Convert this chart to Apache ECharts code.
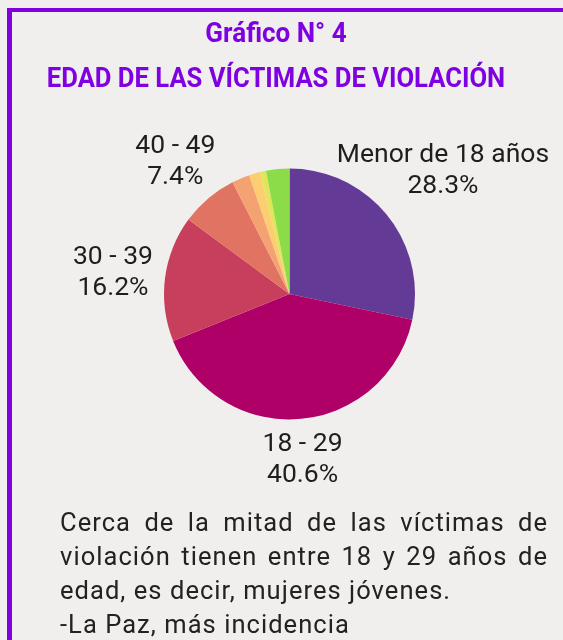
<!DOCTYPE html>
<html lang="es">
<head>
<meta charset="utf-8">
<title>Edad de las víctimas de violación</title>
<script src="https://cdn.jsdelivr.net/npm/echarts@6/dist/echarts.min.js"></script>
<style>
    html, body { margin: 0; padding: 0; background: #f0efed; }
    .frame { position: relative; width: 563px; height: 640px; overflow: hidden; }
    .edge { position: absolute; left: 7px; top: 8px; right: -10px; bottom: -10px;
            border-left: 5px solid #7f00e0; border-top: 4px solid #7f00e0; }
    #chart { position: absolute; left: 0; top: 0; width: 563px; height: 640px; }
    .note { position: absolute; left: 60px; top: 505px; width: 488px;
            font-family: Roboto, "Noto Sans", sans-serif; font-size: 25.5px; line-height: 34px;
            letter-spacing: 1.05px; color: #222; text-align: justify; }
</style>
</head>
<body>
<div class="frame">
    <div class="edge"></div>
    <div id="chart"></div>
    <div class="note">Cerca de la mitad de las víctimas de violación tienen entre 18 y 29 años de edad, es decir, mujeres jóvenes.<br>-La Paz, más incidencia</div>
</div>
<script>
    // datos (porcentajes)
    var ageGroups = ['Menor de 18 años', '18 - 29', '30 - 39', '40 - 49', '50 - 59', '60 - 69', '70 y más', 'Sin dato'];
    var shares = [28.3, 40.6, 16.2, 7.4, 2.3, 1.4, 0.8, 3.0];
    var sliceColors = ['#633a95', '#af0068', '#c73f5c', '#e07362', '#f5a272', '#fdcd72', '#e2e55c', '#8cdc4a'];
    var labelled = [true, true, true, true, false, false, false, false];
    // desplazamiento de cada etiqueta respecto al borde del sector
    var labelShift = [[56, -44], [2, 41], [-52, -5], [-33, -36], [0, 0], [0, 0], [0, 0], [0, 0]];

    var titleFont = 'bold 28px Roboto, sans-serif';

    var chart = echarts.init(document.getElementById('chart'));

    var option = {
        animation: false,
        // letra condensada: Roboto bold estrechada
        graphic: [
            {
                type: 'text', x: 276, y: 35, scaleX: 0.93, silent: true,
                style: { text: 'Gráfico N° 4', font: titleFont, fill: '#7f00e0',
                    textAlign: 'center', textVerticalAlign: 'middle' }
            },
            {
                type: 'text', x: 276, y: 80, scaleX: 0.915, silent: true,
                style: { text: 'EDAD DE LAS VÍCTIMAS DE VIOLACIÓN', font: titleFont, fill: '#7f00e0',
                    textAlign: 'center', textVerticalAlign: 'middle' }
            }
        ],
        series: [
            {
                type: 'pie',
                center: [289.5, 294],
                radius: 125.5,
                startAngle: 90,
                silent: true,
                itemStyle: { borderWidth: 0 },
                label: {
                    position: 'outside',
                    distanceToLabelLine: 0,
                    overflow: 'none',
                    fontFamily: 'Roboto, sans-serif',
                    fontSize: 26.5,
                    lineHeight: 31,
                    color: '#1e1e1e',
                    formatter: function (p) {
                        return p.name + '\n' + p.value.toFixed(1) + '%';
                    }
                },
                labelLine: { show: false, length: 0, length2: 0 },
                labelLayout: function (p) {
                    var s = labelShift[p.dataIndex];
                    return { align: 'center', dx: s[0], dy: s[1] };
                },
                data: ageGroups.map(function (name, i) {
                    return {
                        name: name,
                        value: shares[i],
                        itemStyle: { color: sliceColors[i] },
                        label: { show: labelled[i] }
                    };
                })
            }
        ]
    };

    chart.setOption(option);
</script>
</body>
</html>
